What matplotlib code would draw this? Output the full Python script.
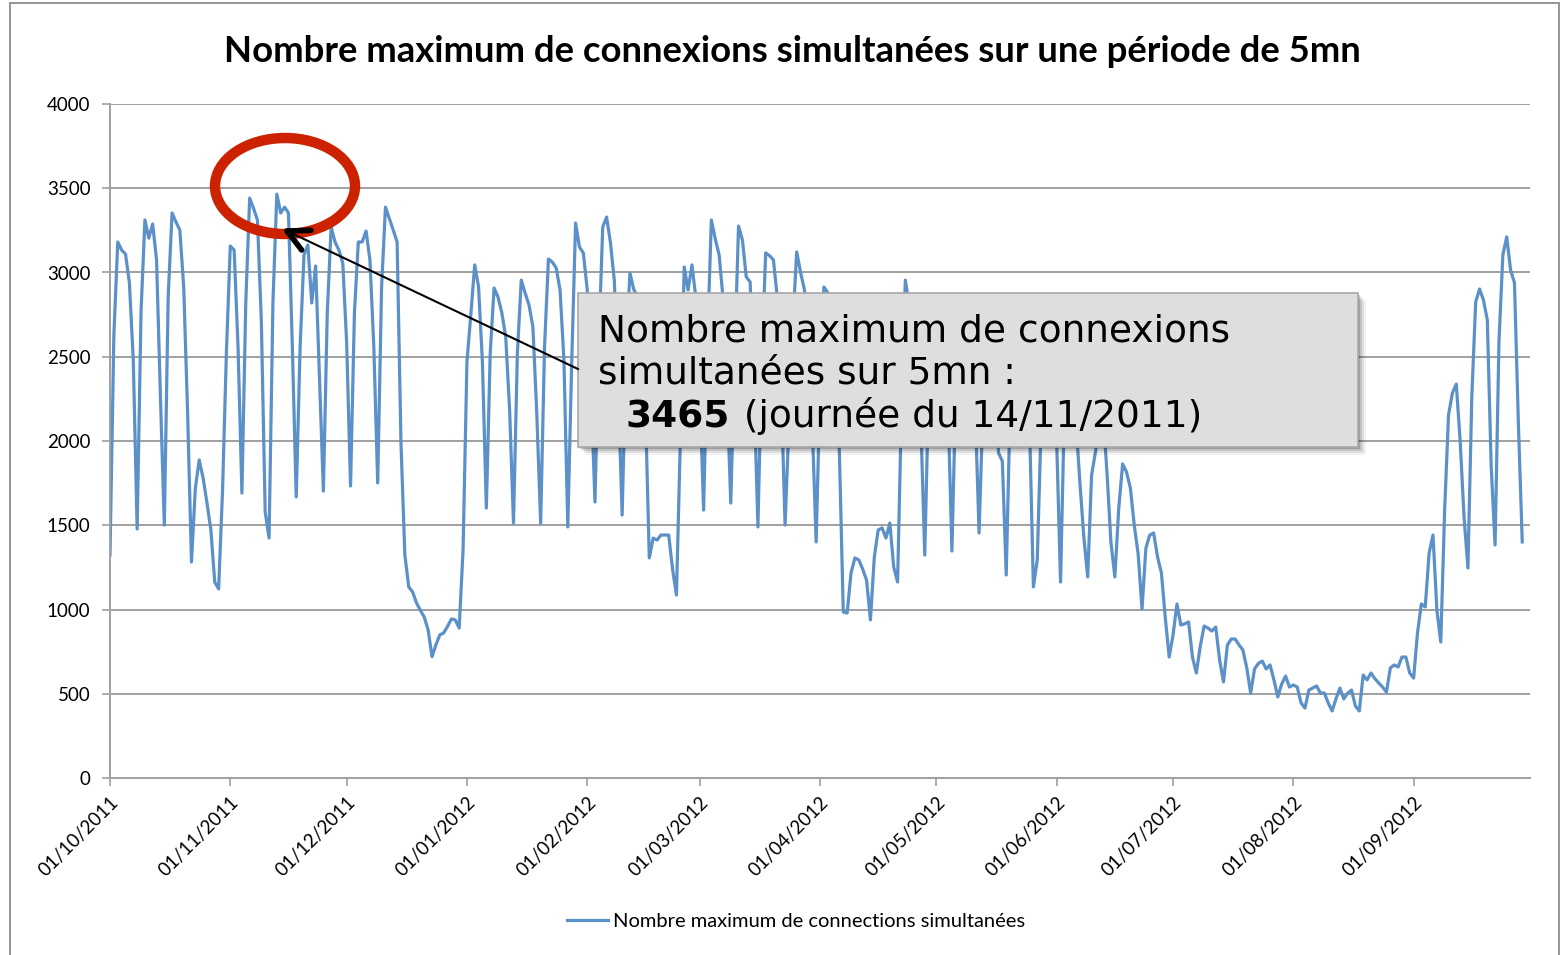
import numpy as np
import pandas as pd
import matplotlib
matplotlib.use('Agg')
import matplotlib.pyplot as plt
import matplotlib.dates as mdates
from matplotlib.patches import Rectangle, Ellipse
from matplotlib.lines import Line2D

# daily maximum of simultaneous connections, 01/10/2011 -> 29/09/2012
oct_2011 = [1323, 2629, 3181, 3133, 3110, 2938, 2480, 1478, 2771, 3312, 3204, 3288, 3074, 2261,
            1501, 2861, 3353, 3300, 3252, 2914, 2170, 1282, 1721, 1887, 1780, 1632, 1472, 1163,
            1122, 1700, 2522]
nov_2011 = [3157, 3133, 2558, 1691, 2825, 3442, 3380, 3312, 2718, 1579, 1424, 2825, 3465, 3353,
            3388, 3353, 2558, 1668, 2558, 3104, 3163, 2819, 3039, 2380, 1703, 2760, 3270, 3181,
            3133, 3056]
dec_2011 = [2582, 1733, 2760, 3181, 3181, 3246, 3074, 2558, 1751, 2914, 3388, 3320, 3252, 3181,
            1988, 1323, 1134, 1104, 1039, 995, 955, 878, 720, 790, 849, 861, 900, 944, 938, 890,
            1353]
jan_2012 = [2469, 2750, 3045, 2914, 2463, 1602, 2522, 2908, 2855, 2760, 2617, 2184, 1513, 2522,
            2955, 2878, 2807, 2677, 2166, 1513, 2558, 3080, 3062, 3027, 2896, 2481, 1490, 2463,
            3294, 3151, 3116]
feb_2012 = [2900, 2300, 1638, 2600, 3270, 3329, 3175, 2950, 2300, 1561, 2500, 2997, 2900, 2850,
            2750, 2200, 1306, 1424, 1412, 1442, 1442, 1442, 1240, 1086, 2000, 3033, 2896, 3045,
            2850]
mar_2012 = [2300, 1590, 2600, 3312, 3200, 3104, 2850, 2300, 1632, 2500, 3276, 3193, 2973, 2944,
            2300, 1490, 2500, 3116, 3100, 3074, 2850, 2300, 1501, 2100, 2700, 3122, 3000, 2896,
            2600, 2100, 1401]
apr_2012 = [2300, 2914, 2880, 2750, 2450, 1929, 985, 979, 1217, 1306, 1294, 1240, 1175, 938,
            1312, 1472, 1484, 1424, 1513, 1252, 1163, 2200, 2955, 2800, 2700, 2600, 2100, 1323,
            2300, 2800]
may_2012 = [2400, 2800, 2700, 2200, 1347, 2300, 2800, 2500, 2750, 2700, 2200, 1454, 2200, 2750,
            2700, 2600, 1930, 1880, 1205, 2200, 2750, 2700, 2650, 2600, 2100, 1134, 1294, 2100,
            2700, 2650, 2600]
jun_2012 = [2000, 1163, 2200, 2600, 2500, 2100, 1750, 1430, 1193, 1798, 1935, 2100, 2150, 1800,
            1395, 1193, 1600, 1864, 1816, 1721, 1500, 1330, 1003, 1365, 1442, 1454, 1312, 1217,
            950, 718]
jul_2012 = [850, 1033, 908, 915, 926, 718, 623, 780, 902, 890, 872, 896, 700, 570, 789, 825, 825,
            790, 760, 653, 504, 647, 680, 694, 647, 671, 582, 481, 558, 605, 540]
aug_2012 = [552, 540, 445, 415, 522, 534, 546, 504, 504, 445, 398, 470, 534, 469, 504, 522, 427,
            398, 611, 582, 623, 590, 564, 540, 510, 653, 671, 659, 718, 718, 623]
sep_2012 = [593, 861, 1033, 1015, 1335, 1442, 997, 807, 1590, 2154, 2285, 2338, 2000, 1549, 1246,
            2261, 2825, 2902, 2837, 2718, 1846, 1383, 2588, 3104, 3211, 3015, 2938, 2107, 1401]

values = (oct_2011 + nov_2011 + dec_2011 + jan_2012 + feb_2012 + mar_2012 + apr_2012
          + may_2012 + jun_2012 + jul_2012 + aug_2012 + sep_2012)
dates = pd.date_range('2011-10-01', periods=len(values), freq='D')
month_ticks = pd.date_range('2011-10-01', '2012-09-01', freq='MS')
y_ticks = np.arange(0, 4001, 500)

title = "Nombre maximum de connexions simultanées sur une période de 5mn"
legend_label = "Nombre maximum de connections simultanées"

W, H = 1568, 955
def fx(x):
    return x / W
def fy(y):
    return 1 - y / H

blue = '#5b90c8'
grid_gray = '#a0a0a0'

fig = plt.figure(figsize=(W / 100, H / 100), dpi=100)
fig.patch.set_facecolor('white')
ax = fig.add_axes([fx(110), fy(778), fx(1530) - fx(110), fy(104) - fy(778)])

line, = ax.plot(dates, values, color=blue, lw=2.3, solid_joinstyle='round')
ax.set_xlim(pd.Timestamp('2011-10-01'), pd.Timestamp('2012-10-01'))
ax.set_ylim(0, 4000)
ax.set_yticks(y_ticks)
ax.set_xticks(month_ticks)
ax.xaxis.set_major_formatter(mdates.DateFormatter('%d/%m/%Y'))
ax.yaxis.grid(True, color=grid_gray, lw=1.4)
ax.set_axisbelow(True)
for s in ['top', 'right']:
    ax.spines[s].set_visible(False)
for s in ['left', 'bottom']:
    ax.spines[s].set_color(grid_gray)
    ax.spines[s].set_linewidth(1.4)
ax.tick_params(axis='y', length=6, width=1.2, color=grid_gray, pad=8,
               labelsize=13.5, labelfontfamily='Lato')
ax.tick_params(axis='x', length=6, width=1.2, color=grid_gray, pad=5,
               labelsize=13.5, labelfontfamily='Lato')
for lab in ax.get_xticklabels():
    lab.set_rotation(45)
    lab.set_ha('right')
    lab.set_va('top')
    lab.set_rotation_mode('anchor')

fig.text(fx(792), fy(52), title, ha='center', va='center', fontsize=26.3,
         fontweight='bold', family='Lato')

fig.legend([line], [legend_label], loc='center', bbox_to_anchor=(fx(796), fy(921)),
           frameon=False, handlelength=2.0, handletextpad=0.25,
           prop={'family': 'Lato', 'size': 14.5})

# outer chart frame
fig.add_artist(Rectangle((fx(10), fy(965)), fx(1559) - fx(10), fy(3) - fy(965),
                         transform=fig.transFigure, fill=False, edgecolor='#8c8c8c', lw=1.3))

# red circle around the peak
fig.add_artist(Ellipse((fx(285), fy(186)), 140 / W, 96 / H, transform=fig.transFigure,
                       fill=False, edgecolor='#cc2200', lw=7.5))

# arrow from the box to the peak
tip = np.array([287.0, 231.0])
tail = np.array([578.0, 369.0])
fig.add_artist(Line2D([fx(tip[0]), fx(tail[0])], [fy(tip[1]), fy(tail[1])],
                      transform=fig.transFigure, color='black', lw=1.5))
d = (tail - tip) / np.linalg.norm(tail - tip)
for ang in (np.radians(27), np.radians(-27)):
    rot = np.array([[np.cos(ang), -np.sin(ang)], [np.sin(ang), np.cos(ang)]])
    arm = tip + 24 * rot @ d
    fig.add_artist(Line2D([fx(tip[0]), fx(arm[0])], [fy(tip[1]), fy(arm[1])],
                          transform=fig.transFigure, color='black', lw=4,
                          solid_capstyle='round'))

# annotation box with soft shadow
bx0, by0, bx1, by1 = 578, 293, 1358, 447
for k, a in zip([8, 6, 4, 2], [0.05, 0.08, 0.12, 0.18]):
    fig.add_artist(Rectangle((fx(bx0 + k), fy(by1 + k)), (bx1 - bx0) / W, (by1 - by0) / H,
                             transform=fig.transFigure, facecolor='black', edgecolor='none',
                             alpha=a))
fig.add_artist(Rectangle((fx(bx0), fy(by1)), (bx1 - bx0) / W, (by1 - by0) / H,
                         transform=fig.transFigure, facecolor='#dedede',
                         edgecolor='#a8a8a8', lw=1.2))
box_font = dict(family='DejaVu Sans', fontsize=27, va='baseline', ha='left')
fig.text(fx(598), fy(341), "Nombre maximum de connexions", **box_font)
fig.text(fx(598), fy(383), "simultanées sur 5mn :", **box_font)
t_bold = fig.text(fx(625), fy(427), "3465", fontweight='bold', **box_font)
t_rest = fig.text(0, 0, " (journée du 14/11/2011)", **box_font)
fig.canvas.draw()
bb = t_bold.get_window_extent()
t_rest.set_position(((bb.x1 + 3) / W, fy(427)))

fig.savefig('out.png', dpi=100)
